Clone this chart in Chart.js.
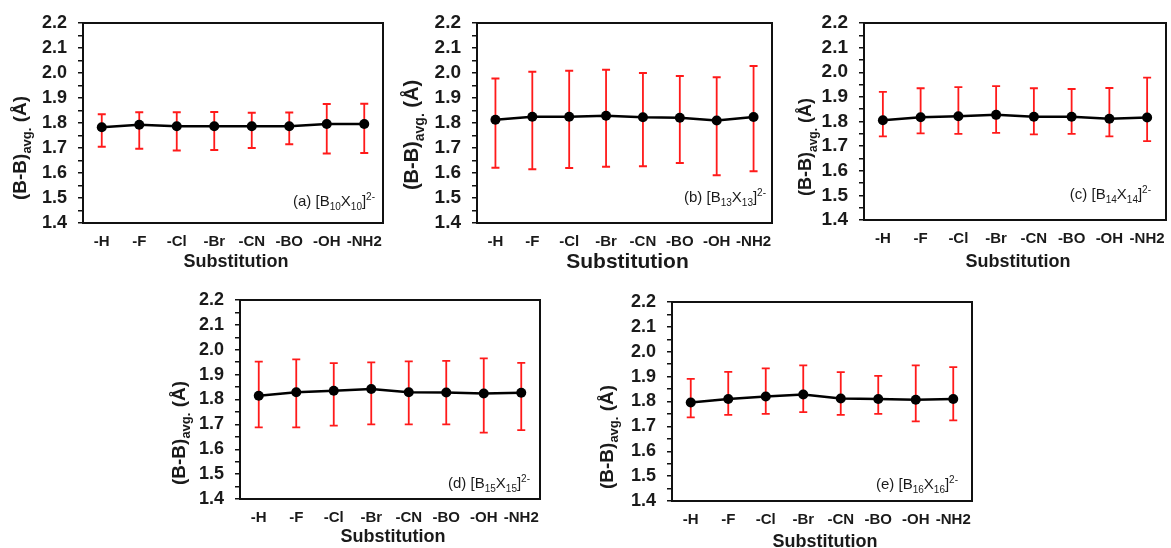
<!DOCTYPE html>
<html>
<head>
<meta charset="utf-8">
<script src="https://cdn.jsdelivr.net/npm/chart.js@4.4.0/dist/chart.umd.min.js"></script>
<style>
  html, body { margin: 0; padding: 0; background: #fff; }
  #page { position: relative; width: 1171px; height: 548px; overflow: hidden; }
  #page canvas { position: absolute; left: 0; top: 0; }
</style>
</head>
<body>
<div id="page">
  <canvas id="panelA" width="1171" height="548"></canvas>
  <canvas id="panelB" width="1171" height="548"></canvas>
  <canvas id="panelC" width="1171" height="548"></canvas>
  <canvas id="panelD" width="1171" height="548"></canvas>
  <canvas id="panelE" width="1171" height="548"></canvas>
</div>
<script>
// substituent groups on the x axis
var substituents = ["-H", "-F", "-Cl", "-Br", "-CN", "-BO", "-OH", "-NH2"];
var yMajorTicks = [1.4, 1.5, 1.6, 1.7, 1.8, 1.9, 2.0, 2.1, 2.2];

// average B-B bond length with min / max range, per cluster
var b10Avg  = [1.783, 1.793, 1.787, 1.787, 1.787, 1.787, 1.796, 1.796];
var b10Low  = [1.705, 1.697, 1.690, 1.692, 1.700, 1.715, 1.678, 1.680];
var b10High = [1.835, 1.843, 1.843, 1.844, 1.841, 1.842, 1.876, 1.877];

var b13Avg  = [1.813, 1.825, 1.825, 1.829, 1.823, 1.821, 1.810, 1.824];
var b13Low  = [1.621, 1.615, 1.620, 1.625, 1.627, 1.640, 1.591, 1.607];
var b13High = [1.978, 2.005, 2.009, 2.013, 2.000, 1.988, 1.983, 2.028];

var b14Avg  = [1.805, 1.817, 1.821, 1.827, 1.819, 1.819, 1.811, 1.816];
var b14Low  = [1.740, 1.752, 1.750, 1.754, 1.748, 1.750, 1.740, 1.720];
var b14High = [1.920, 1.935, 1.940, 1.944, 1.935, 1.932, 1.936, 1.978];

var b15Avg  = [1.815, 1.829, 1.835, 1.842, 1.829, 1.828, 1.824, 1.827];
var b15Low  = [1.688, 1.688, 1.695, 1.700, 1.700, 1.700, 1.667, 1.677];
var b15High = [1.952, 1.961, 1.946, 1.949, 1.953, 1.955, 1.965, 1.947];

var b16Avg  = [1.796, 1.810, 1.820, 1.828, 1.812, 1.810, 1.807, 1.810];
var b16Low  = [1.736, 1.746, 1.750, 1.757, 1.746, 1.750, 1.720, 1.724];
var b16High = [1.891, 1.919, 1.933, 1.945, 1.918, 1.903, 1.945, 1.938];

var FONT = "'Liberation Sans', Arial, sans-serif";

// plot box of each panel on the page, plus where its titles sit
var panels = [
  { id: "panelA", tag: "a", n: "10", avg: b10Avg, low: b10Low, high: b10High,
    box: { l: 83, t: 23, r: 383, b: 223 }, tickSize: 18,
    yTitle: { x: 19, y: 148, size: 19 }, xTitle: { size: 18, dy: 39 },
    note: { dx: 8, dy: 17 } },
  { id: "panelB", tag: "b", n: "13", avg: b13Avg, low: b13Low, high: b13High,
    box: { l: 477, t: 23, r: 772, b: 223 }, tickSize: 19,
    yTitle: { x: 411, y: 135, size: 20 }, xTitle: { size: 21, dy: 39 },
    note: { dx: 6, dy: 21 } },
  { id: "panelC", tag: "c", n: "14", avg: b14Avg, low: b14Low, high: b14High,
    box: { l: 864, t: 23, r: 1168, b: 220 }, tickSize: 19,
    yTitle: { x: 805, y: 147, size: 18 }, xTitle: { size: 18, dy: 42 },
    note: { dx: 15, dy: 21 } },
  { id: "panelD", tag: "d", n: "15", avg: b15Avg, low: b15Low, high: b15High,
    box: { l: 240, t: 300, r: 540, b: 499 }, tickSize: 18,
    yTitle: { x: 178, y: 433, size: 19 }, xTitle: { size: 18, dy: 38 },
    note: { dx: 10, dy: 11 } },
  { id: "panelE", tag: "e", n: "16", avg: b16Avg, low: b16Low, high: b16High,
    box: { l: 672, t: 302, r: 972, b: 501 }, tickSize: 18,
    yTitle: { x: 606, y: 437, size: 19 }, xTitle: { size: 18, dy: 41 },
    note: { dx: 14, dy: 12 } }
];

var Y_AXIS_W = 60, X_AXIS_H = 30;

// text runs with sub/superscripts: [text, shift] (-1 sub, 1 sup)
function drawRich(ctx, parts, x, y, size, weight, align) {
  var small = Math.round(size * 0.68);
  var widths = parts.map(function (p) {
    ctx.font = weight + " " + (p[1] ? small : size) + "px " + FONT;
    return ctx.measureText(p[0]).width;
  });
  var total = widths.reduce(function (a, b) { return a + b; }, 0);
  var cx = align === "right" ? x - total : align === "center" ? x - total / 2 : x;
  ctx.textBaseline = "alphabetic";
  ctx.textAlign = "left";
  parts.forEach(function (p, i) {
    ctx.font = weight + " " + (p[1] ? small : size) + "px " + FONT;
    var dy = p[1] < 0 ? size * 0.28 : p[1] > 0 ? -size * 0.42 : 0;
    ctx.fillText(p[0], cx, y + dy);
    cx += widths[i];
  });
}

// red min/max bars under the line
var rangeBars = {
  id: "rangeBars",
  beforeDatasetsDraw: function (chart, args, opts) {
    var ctx = chart.ctx, x = chart.scales.x, y = chart.scales.y;
    ctx.save();
    ctx.strokeStyle = "#ff1a1a";
    ctx.lineWidth = 1.8;
    opts.low.forEach(function (lo, i) {
      var px = x.getPixelForValue(i);
      var y0 = y.getPixelForValue(lo), y1 = y.getPixelForValue(opts.high[i]);
      ctx.beginPath();
      ctx.moveTo(px, y0); ctx.lineTo(px, y1);
      ctx.moveTo(px - 4, y0); ctx.lineTo(px + 4, y0);
      ctx.moveTo(px - 4, y1); ctx.lineTo(px + 4, y1);
      ctx.stroke();
    });
    ctx.restore();
  }
};

// frame around the plot area plus axis titles and panel label
var frameAndTitles = {
  id: "frameAndTitles",
  afterDraw: function (chart, args, opts) {
    var ctx = chart.ctx, a = chart.chartArea, p = opts.panel;
    ctx.save();
    ctx.strokeStyle = "#111";
    ctx.lineWidth = 2;
    ctx.strokeRect(a.left, a.top, a.right - a.left, a.bottom - a.top);
    ctx.fillStyle = "#1a1a1a";

    ctx.font = "bold " + p.xTitle.size + "px " + FONT;
    ctx.textAlign = "center";
    ctx.textBaseline = "middle";
    ctx.fillText("Substitution", (a.left + a.right) / 2 + 3, a.bottom + p.xTitle.dy);

    ctx.save();
    ctx.translate(p.yTitle.x, p.yTitle.y);
    ctx.rotate(-Math.PI / 2);
    drawRich(ctx, [["(B-B)", 0], ["avg.", -1], [" (Å)", 0]], 0, p.yTitle.size * 0.36,
      p.yTitle.size, "bold", "center");
    ctx.restore();

    drawRich(ctx, [["(" + p.tag + ") [B", 0], [p.n, -1], ["X", 0], [p.n, -1], ["]", 0], ["2-", 1]],
      a.right - p.note.dx, a.bottom - p.note.dy, 15, "normal", "right");
    ctx.restore();
  }
};

panels.forEach(function (p) {
  new Chart(document.getElementById(p.id), {
    type: "line",
    data: {
      labels: substituents,
      datasets: [{
        data: p.avg,
        borderColor: "#000",
        borderWidth: 2.5,
        pointRadius: 5,
        pointBackgroundColor: "#000",
        pointBorderWidth: 0,
        tension: 0
      }]
    },
    options: {
      responsive: false,
      animation: false,
      events: [],
      layout: {
        padding: {
          left: p.box.l - Y_AXIS_W,
          top: p.box.t,
          right: 1171 - p.box.r,
          bottom: 548 - p.box.b - X_AXIS_H
        }
      },
      plugins: {
        legend: { display: false },
        tooltip: { enabled: false },
        rangeBars: { low: p.low, high: p.high },
        frameAndTitles: { panel: p }
      },
      scales: {
        x: {
          offset: true,
          afterFit: function (s) { s.height = X_AXIS_H; },
          // hidden tick marks still push the labels down
          grid: { display: false, drawTicks: true, tickLength: 8 },
          border: { display: false },
          ticks: {
            padding: 2,
            maxRotation: 0,
            autoSkip: false,
            color: "#1a1a1a",
            font: { family: FONT, size: 15, weight: "bold" }
          }
        },
        y: {
          min: yMajorTicks[0],
          max: yMajorTicks[yMajorTicks.length - 1],
          afterFit: function (s) { s.width = Y_AXIS_W; },
          grid: { drawOnChartArea: false, drawTicks: true, tickLength: 5, color: "#111", lineWidth: 1.5 },
          border: { display: false },
          ticks: {
            stepSize: 0.05,
            autoSkip: false,
            padding: 11,
            color: "#1a1a1a",
            font: { family: FONT, size: p.tickSize, weight: "bold" },
            callback: function (v) {
              var hit = yMajorTicks.some(function (t) { return Math.abs(t - v) < 1e-6; });
              return hit ? v.toFixed(1) : "";
            }
          }
        }
      }
    },
    plugins: [rangeBars, frameAndTitles]
  });
});
</script>
</body>
</html>
